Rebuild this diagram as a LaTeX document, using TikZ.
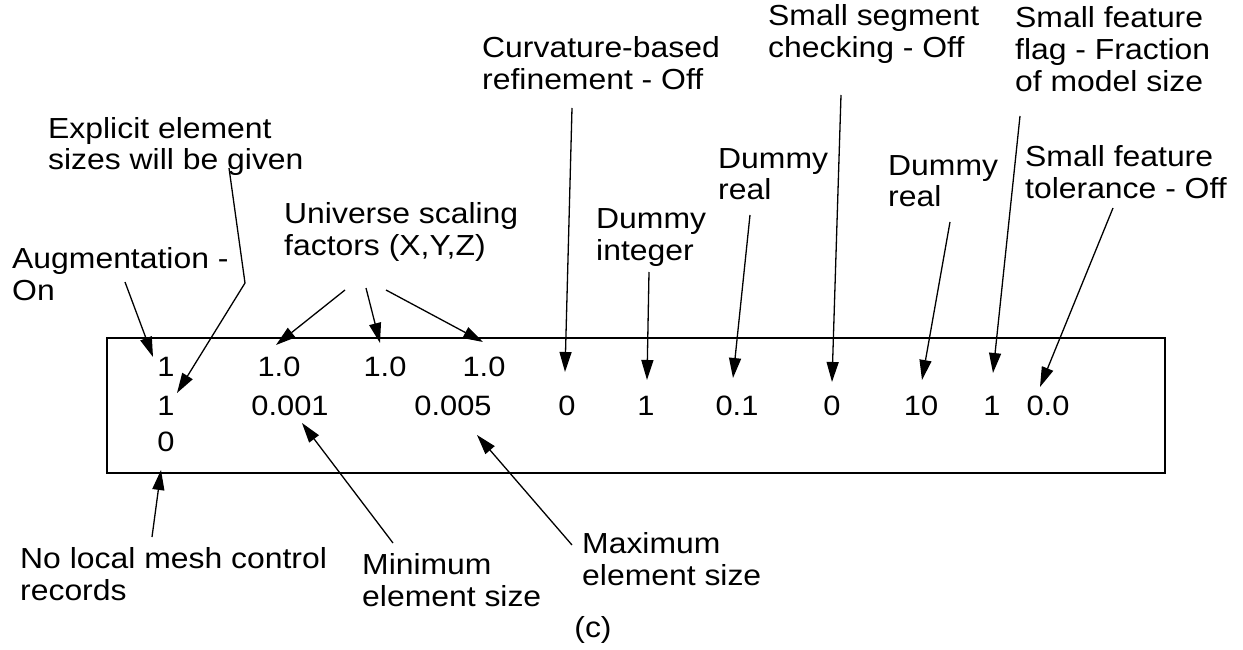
\documentclass[tikz,border=0pt]{standalone}
\usepackage{fontspec}
\setmainfont{Liberation Sans}[FakeStretch=1.1]
\usetikzlibrary{arrows.meta}
\begin{document}
\begin{tikzpicture}[x=1pt,y=-1pt,
  lbl/.style={anchor=base west,inner sep=0pt,align=left,font=\fontsize{29}{32}\selectfont},
  num/.style={anchor=base,inner sep=0pt,font=\fontsize{28}{32}\selectfont},
  ptr/.style={line width=1.3pt,-{Triangle[length=20pt,width=12pt]}},
  framebox/.style={line width=1.6pt}]
\useasboundingbox (0,0) rectangle (1243,650);
% frame
\draw[framebox] (107,338) rectangle (1165,473);
% labels (y = baseline of the last line)
\node[lbl] (expl) at (48,170) {Explicit element\\sizes will be given};
\node[lbl] (aug) at (12,300) {Augmentation -\\On};
\node[lbl] (univ) at (284,255) {Universe scaling\\factors (X,Y,Z)};
\node[lbl] (curv) at (482,90) {Curvature-based\\refinement - Off};
\node[lbl] (dint) at (596,260) {Dummy\\integer};
\node[lbl] (dreal1) at (718,200) {Dummy\\real};
\node[lbl] (sseg) at (768,58) {Small segment\\checking - Off};
\node[lbl] (dreal2) at (888,207) {Dummy\\real};
\node[lbl] (sflag) at (1015,92) {Small feature\\flag - Fraction\\of model size};
\node[lbl] (stol) at (1025,198) {Small feature\\tolerance - Off};
\node[lbl] (noloc) at (20,600) {No local mesh control\\records};
\node[lbl] (minel) at (362,606) {Minimum\\element size};
\node[lbl] (maxel) at (582,585) {Maximum\\element size};
\node[num,font=\fontsize{29}{32}\selectfont] (cap) at (593,637) {(c)};
% numbers
\node[num] (a1) at (166,376) {1};
\node[num] (a2) at (279,376) {1.0};
\node[num] (a3) at (385,376) {1.0};
\node[num] (a4) at (484,376) {1.0};
\node[num] (b1) at (166,415) {1};
\node[num] (b2) at (290,415) {0.001};
\node[num] (b3) at (453,415) {0.005};
\node[num] (b4) at (567,415) {0};
\node[num] (b5) at (646,415) {1};
\node[num] (b6) at (737,415) {0.1};
\node[num] (b7) at (832,415) {0};
\node[num] (b8) at (921,415) {10};
\node[num] (b9) at (992,415) {1};
\node[num] (b10) at (1048,415) {0.0};
\node[num] (c1) at (166,451) {0};
% connector end points
\coordinate (augS) at (125,282);   \coordinate (augT) at (153,357);
\coordinate (explS) at (229,168);  \coordinate (explK) at (245,283); \coordinate (explT) at (177,393);
\coordinate (uS1) at (345,290); \coordinate (uT1) at (276,345);
\coordinate (uS2) at (366,288); \coordinate (uT2) at (380,343);
\coordinate (uS3) at (386,290); \coordinate (uT3) at (483,342);
\coordinate (curvS) at (572,108);  \coordinate (curvT) at (565,372);
\coordinate (dintS) at (649,272);  \coordinate (dintT) at (647,380);
\coordinate (dr1S) at (750,215);   \coordinate (dr1T) at (733,378);
\coordinate (ssegS) at (841,95);   \coordinate (ssegT) at (832,382);
\coordinate (dr2S) at (950,222);   \coordinate (dr2T) at (922,380);
\coordinate (sflagS) at (1020,116);\coordinate (sflagT) at (993,373);
\coordinate (stolS) at (1113,208); \coordinate (stolT) at (1040,387);
\coordinate (nolS) at (152,537);   \coordinate (nolT) at (161,470);
\coordinate (minS) at (393,543);   \coordinate (minT) at (302,423);
\coordinate (maxS) at (572,545);   \coordinate (maxT) at (477,435);
% connectors
\draw[ptr] (augS) -- (augT);
\draw[ptr] (explS) -- (explK) -- (explT);
\draw[ptr] (uS1) -- (uT1);
\draw[ptr] (uS2) -- (uT2);
\draw[ptr] (uS3) -- (uT3);
\draw[ptr] (curvS) -- (curvT);
\draw[ptr] (dintS) -- (dintT);
\draw[ptr] (dr1S) -- (dr1T);
\draw[ptr] (ssegS) -- (ssegT);
\draw[ptr] (dr2S) -- (dr2T);
\draw[ptr] (sflagS) -- (sflagT);
\draw[ptr] (stolS) -- (stolT);
\draw[ptr] (nolS) -- (nolT);
\draw[ptr] (minS) -- (minT);
\draw[ptr] (maxS) -- (maxT);
\end{tikzpicture}
\end{document}
